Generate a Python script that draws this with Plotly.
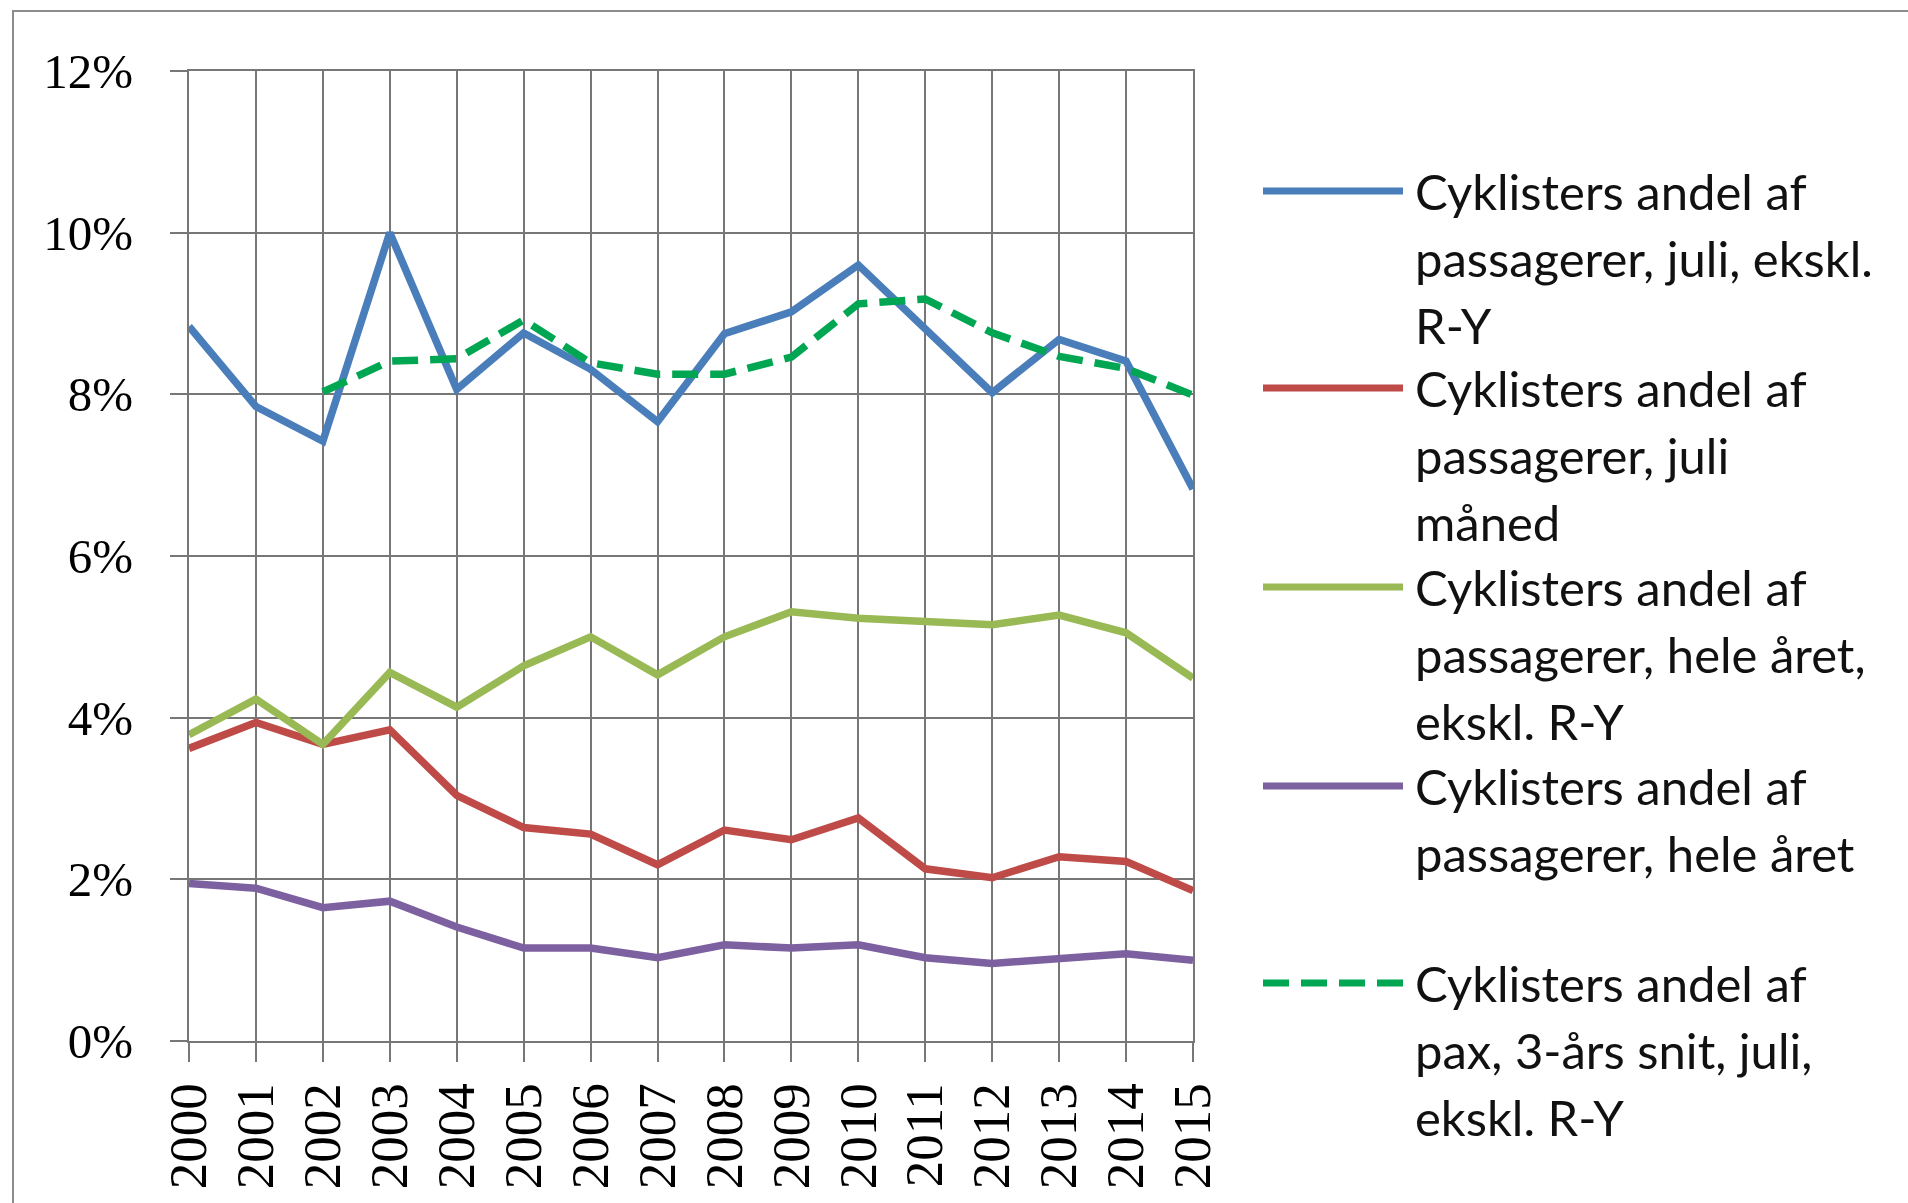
import plotly.graph_objects as go

# Cyclists' share of passengers, 2000-2015 (percent)
years = list(range(2000, 2016))
juli_ekskl_ry = [8.84, 7.85, 7.42, 10.0, 8.06, 8.76, 8.31, 7.66, 8.75, 9.02, 9.60, 8.80, 8.02, 8.68, 8.41, 6.83]
juli_maaned = [3.62, 3.94, 3.67, 3.85, 3.04, 2.64, 2.56, 2.18, 2.61, 2.49, 2.76, 2.13, 2.02, 2.28, 2.22, 1.86]
hele_aaret_ekskl_ry = [3.79, 4.23, 3.67, 4.56, 4.13, 4.64, 5.00, 4.53, 5.00, 5.31, 5.23, 5.19, 5.15, 5.27, 5.05, 4.49]
hele_aaret = [1.95, 1.89, 1.65, 1.73, 1.41, 1.15, 1.15, 1.03, 1.19, 1.15, 1.19, 1.03, 0.96, 1.03, 1.08, 1.00]
snit_3aar_juli = [None, None, 8.03, 8.41, 8.44, 8.92, 8.39, 8.25, 8.25, 8.46, 9.12, 9.18, 8.76, 8.47, 8.32, 7.99]

y_ticks = [0, 2, 4, 6, 8, 10, 12]
y_tick_labels = ["0%", "2%", "4%", "6%", "8%", "10%", "12%"]

series = [
    (["Cyklisters andel af", "passagerer, juli, ekskl.", "R-Y"], juli_ekskl_ry, "#4A7EBB", "solid"),
    (["Cyklisters andel af", "passagerer, juli", "måned"], juli_maaned, "#BE4B48", "solid"),
    (["Cyklisters andel af", "passagerer, hele året,", "ekskl. R-Y"], hele_aaret_ekskl_ry, "#98B954", "solid"),
    (["Cyklisters andel af", "passagerer, hele året"], hele_aaret, "#7D60A0", "solid"),
    (["Cyklisters andel af", "pax, 3-års snit, juli,", "ekskl. R-Y"], snit_3aar_juli, "#00A651", "26px,12px"),
]

W, H = 1908, 1203
ML, MR, MT, MB = 189, 715, 71, 162
PW = W - ML - MR
PH = H - MT - MB


def paper_x(px):
    return (px - ML) / PW


def paper_y(py):
    return (H - MB - py) / PH


fig = go.Figure()
for lines, values, color, dash in series:
    fig.add_trace(go.Scatter(
        x=years, y=values, mode="lines", name=" ".join(lines),
        line=dict(color=color, width=7.5, dash=dash),
        showlegend=False, connectgaps=False,
    ))

# Legend drawn beside the plot: long line sample plus wrapped label
legend_rows = [191, 388, 587, 786, 983]
line_gap = 66.8
shapes = []
annotations = []
for (lines, values, color, dash), row_y in zip(series, legend_rows):
    shapes.append(dict(
        type="line", xref="paper", yref="paper",
        x0=paper_x(1263), x1=paper_x(1403), y0=paper_y(row_y), y1=paper_y(row_y),
        line=dict(color=color, width=7, dash=dash),
    ))
    for i, txt in enumerate(lines):
        annotations.append(dict(
            text=txt, xref="paper", yref="paper",
            x=paper_x(1413), y=paper_y(row_y + i * line_gap),
            xanchor="left", yanchor="middle", showarrow=False,
            font=dict(family="Lato", size=49, color="#111111"),
        ))

# Outer chart frame
shapes.append(dict(
    type="rect", xref="paper", yref="paper",
    x0=paper_x(13), x1=paper_x(1930), y0=paper_y(11), y1=paper_y(1230),
    line=dict(color="#8c8c8c", width=2), fillcolor="rgba(0,0,0,0)", layer="below",
))

fig.update_layout(
    width=W, height=H,
    margin=dict(l=ML, r=MR, t=MT, b=MB, pad=0, autoexpand=False),
    paper_bgcolor="white", plot_bgcolor="white",
    shapes=shapes, annotations=annotations,
    showlegend=False,
)
fig.update_xaxes(
    range=[2000, 2015], tickmode="array", tickvals=years, ticktext=[str(y) for y in years],
    tickangle=-90, ticks="outside", ticklen=19, tickcolor="#777777", tickwidth=2,
    showgrid=True, gridcolor="#777777", gridwidth=2,
    showline=True, linecolor="#777777", linewidth=2, mirror=True,
    tickfont=dict(family="Liberation Serif", size=53, color="black"),
    ticklabelstandoff=0, zeroline=False, automargin=False,
)
fig.update_yaxes(
    range=[0, 12], tickmode="array", tickvals=y_ticks, ticktext=y_tick_labels,
    ticks="outside", ticklen=17, tickcolor="#777777", tickwidth=2,
    showgrid=True, gridcolor="#777777", gridwidth=2,
    showline=True, linecolor="#777777", linewidth=2, mirror=True,
    tickfont=dict(family="Liberation Serif", size=49, color="black"),
    ticklabelstandoff=27, zeroline=False, automargin=False,
)

fig.write_html("out.html")
